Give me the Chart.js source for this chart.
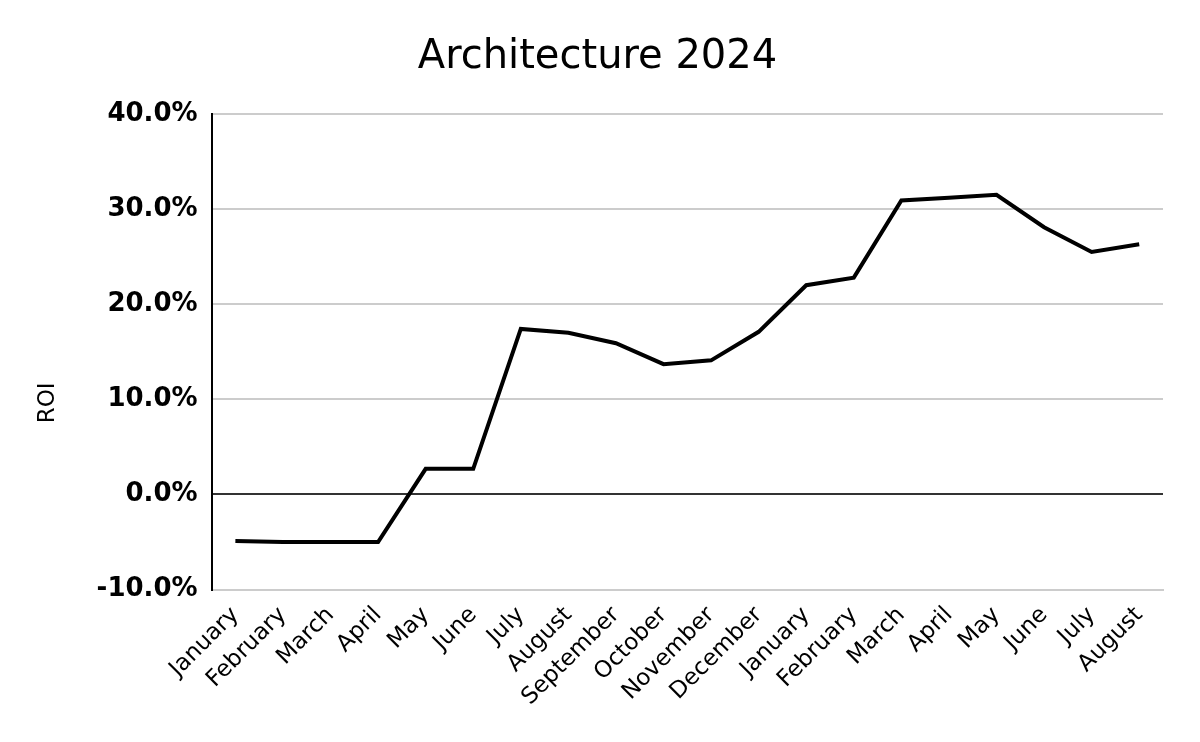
<!DOCTYPE html>
<html>
<head>
<meta charset="utf-8">
<script src="https://cdn.jsdelivr.net/npm/chart.js@4"></script>
<style>
  html, body { margin: 0; padding: 0; background: #fff; }
  #wrap { width: 1200px; height: 742px; }
</style>
</head>
<body>
<div id="wrap"><canvas id="myChart"></canvas></div>
<script>
// Month labels (two years, Jan 2024 - Aug 2025)
var months = ["January", "February", "March", "April", "May", "June", "July", "August",
  "September", "October", "November", "December", "January", "February", "March",
  "April", "May", "June", "July", "August"];

// ROI values in percent
var roi = [-4.9, -5.0, -5.0, -5.0, 2.7, 2.7, 17.4, 17.0, 15.9, 13.7,
  14.1, 17.1, 22.0, 22.8, 30.9, 31.2, 31.5, 28.1, 25.5, 26.3];

// Y axis range
var yMin = -10;
var yMax = 40;
var yStep = 10;

var font = "'DejaVu Sans', Verdana, sans-serif";

// The axis title sits a bit below the middle of the axis in the original,
// so the built-in title only reserves the room and this draws the text.
const roiTitle = {
    id: 'roiTitle',
    afterDraw: function(chart) {
        const c = chart.ctx;
        const area = chart.chartArea;
        c.save();
        c.translate(48, (area.top + area.bottom) / 2 + 51);
        c.rotate(-Math.PI / 2);
        c.font = "23px " + font;
        c.fillStyle = '#000';
        c.textAlign = 'center';
        c.textBaseline = 'middle';
        c.fillText('ROI', 0, 0);
        c.restore();
    }
};

const ctx = document.getElementById('myChart').getContext('2d');
const myChart = new Chart(ctx, {
    type: 'line',
    data: {
        labels: months,
        datasets: [{
            label: 'ROI',
            data: roi,
            borderColor: '#000',
            borderWidth: 4,
            pointRadius: 0,
            tension: 0,
            fill: false
        }]
    },
    plugins: [roiTitle],
    options: {
        responsive: true,
        maintainAspectRatio: false,
        animation: false,
        layout: {
            padding: { left: 32, right: 37, top: 10, bottom: 27 }
        },
        plugins: {
            legend: { display: false },
            tooltip: { enabled: false },
            title: {
                display: true,
                text: 'Architecture 2024',
                color: '#000',
                font: { family: font, size: 40, weight: 'normal' },
                padding: { top: 24, bottom: 32 }
            }
        },
        scales: {
            x: {
                offset: true,
                grid: { display: false },
                border: { color: '#ccc', width: 2 },
                ticks: {
                    color: '#000',
                    font: { family: font, size: 23 },
                    maxRotation: 45,
                    minRotation: 45,
                    autoSkip: false,
                    padding: 4
                }
            },
            y: {
                min: yMin,
                max: yMax,
                title: {
                    display: true,
                    text: 'ROI',
                    color: 'rgba(0,0,0,0)',
                    font: { family: font, size: 23 },
                    padding: { bottom: 19 }
                },
                border: { color: '#000', width: 2 },
                grid: {
                    drawTicks: false,
                    lineWidth: 2,
                    color: function(c) {
                        return c.tick && c.tick.value === 0 ? '#333' : '#ccc';
                    }
                },
                ticks: {
                    stepSize: yStep,
                    color: '#000',
                    padding: 14,
                    font: { family: font, size: 26, weight: 'bold' },
                    callback: function(v) { return v.toFixed(1) + '%'; }
                }
            }
        }
    }
});
</script>
</body>
</html>
